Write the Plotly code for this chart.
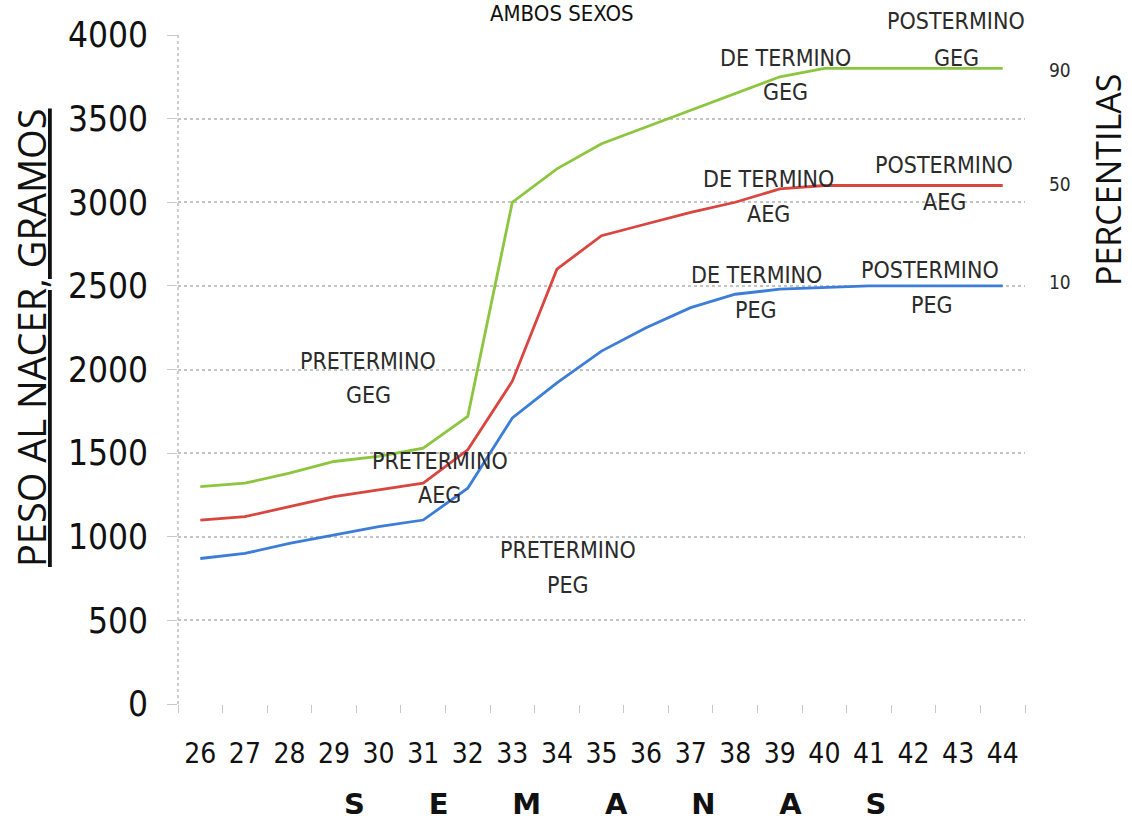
import plotly.graph_objects as go

semanas = [26, 27, 28, 29, 30, 31, 32, 33, 34, 35, 36, 37, 38, 39, 40, 41, 42, 43, 44]
geg_p90 = [1300, 1320, 1380, 1450, 1480, 1530, 1720, 3000, 3200, 3350, 3450, 3550, 3650, 3750, 3800, 3800, 3800, 3800, 3800]
aeg_p50 = [1100, 1120, 1180, 1240, 1280, 1320, 1520, 1930, 2600, 2800, 2870, 2940, 3000, 3080, 3100, 3100, 3100, 3100, 3100]
peg_p10 = [870, 900, 960, 1010, 1060, 1100, 1290, 1710, 1920, 2110, 2250, 2370, 2450, 2480, 2490, 2500, 2500, 2500, 2500]
y_ticks = [0, 500, 1000, 1500, 2000, 2500, 3000, 3500, 4000]
percentil_labels = ["90", "50", "10"]

series = [
    ("GEG", geg_p90, "#8CC63E"),
    ("AEG", aeg_p50, "#D9453F"),
    ("PEG", peg_p10, "#3C7DD8"),
]

NARROW = "Liberation Sans Narrow, DejaVu Sans Condensed, Arial Narrow, sans-serif"

W, H = 1132, 829
L, R, T, B = 178, 107, 35, 125
pw, ph = W - L - R, H - T - B


def px(x):
    return (x - L) / pw


def py(y):
    return 1 - (y - T) / ph


fig = go.Figure()
for name, vals, color in series:
    fig.add_trace(go.Scatter(x=semanas, y=vals, mode="lines", name=name,
                             line=dict(color=color, width=2.8), showlegend=False))

ann_font = dict(family=NARROW, size=23, color="#2b2b2b")
labels = [
    ("PRETERMINO", "GEG", 368, 361, 368, 395),
    ("PRETERMINO", "AEG", 440, 461, 439, 495),
    ("PRETERMINO", "PEG", 568, 550, 568, 585),
    ("DE TERMINO", "GEG", 785, 58, 785, 92),
    ("POSTERMINO", "GEG", 956, 21, 956, 58),
    ("DE TERMINO", "AEG", 768, 179, 768, 214),
    ("POSTERMINO", "AEG", 944, 165, 944, 202),
    ("DE TERMINO", "PEG", 756, 275, 756, 310),
    ("POSTERMINO", "PEG", 930, 270, 932, 305),
]
for l1, l2, x1, y1, x2, y2 in labels:
    for txt, x, y in [(l1, x1, y1), (l2, x2, y2)]:
        fig.add_annotation(text=txt, x=px(x), y=py(y), xref="paper", yref="paper",
                           showarrow=False, font=ann_font, xanchor="center", yanchor="middle")

for txt, y in zip(percentil_labels, [70, 184, 282]):
    fig.add_annotation(text=txt, x=px(1060), y=py(y), xref="paper", yref="paper",
                       showarrow=False, font=dict(family=NARROW, size=19, color="#2b2b2b"),
                       xanchor="center", yanchor="middle")

fig.add_annotation(text="PERCENTILAS", x=px(1108), y=py(180), xref="paper", yref="paper",
                   showarrow=False, textangle=-90,
                   font=dict(family="Open Sans, sans-serif", size=34, color="#111111"),
                   xanchor="center", yanchor="middle")

fig.add_annotation(text="PESO AL NACER, GRAMOS", x=px(31), y=py(338), xref="paper", yref="paper",
                   showarrow=False, textangle=-90,
                   font=dict(family="Open Sans, sans-serif", size=38, color="#111111",
                             lineposition="under"),
                   xanchor="center", yanchor="middle")

fig.add_annotation(text="AMBOS SEXOS", x=px(562), y=py(13), xref="paper", yref="paper",
                   showarrow=False,
                   font=dict(family=NARROW, size=22, color="#111111"),
                   xanchor="center", yanchor="middle")

sp = "\u2003\u2003\u2009"
fig.add_annotation(text="<b>" + sp.join("SEMANAS") + "</b>", x=px(615), y=py(804),
                   xref="paper", yref="paper", showarrow=False,
                   font=dict(family="DejaVu Sans, sans-serif", size=29, color="#111111"),
                   xanchor="center", yanchor="middle")

# dotted vertical axis line
fig.add_shape(type="line", xref="paper", yref="paper", x0=0, x1=0, y0=0, y1=1,
              line=dict(color="#bdbdbd", width=1.5, dash="dot"))

fig.update_layout(
    width=W, height=H,
    margin=dict(l=L, r=R, t=T, b=B, autoexpand=False),
    paper_bgcolor="white", plot_bgcolor="white",
)
fig.update_xaxes(
    range=[25.5, 44.5], tickmode="array", tickvals=semanas,
    ticktext=[str(s) for s in semanas],
    tickfont=dict(family=NARROW, size=28, color="#111111"),
    showgrid=False, zeroline=False, showline=False, automargin=False,
    ticks="", ticklabelstandoff=30,
    minor=dict(ticks="outside", tickmode="array",
               tickvals=[s - 0.5 for s in semanas] + [semanas[-1] + 0.5],
               ticklen=8, tickcolor="#c8c8c8", tickwidth=1, showgrid=False),
)
fig.update_yaxes(
    range=[0, 4000], tickmode="array", tickvals=y_ticks,
    tickfont=dict(family=NARROW, size=35, color="#111111"),
    showgrid=True, gridcolor="#c4c4c4", griddash="dot", gridwidth=2,
    zeroline=False, showline=False, automargin=False,
    ticks="outside", ticklen=10, tickcolor="#c8c8c8", ticklabelstandoff=12,
)

fig.write_html("out.html", config={"displayModeBar": False},
               post_script="document.body.style.margin='0';")
